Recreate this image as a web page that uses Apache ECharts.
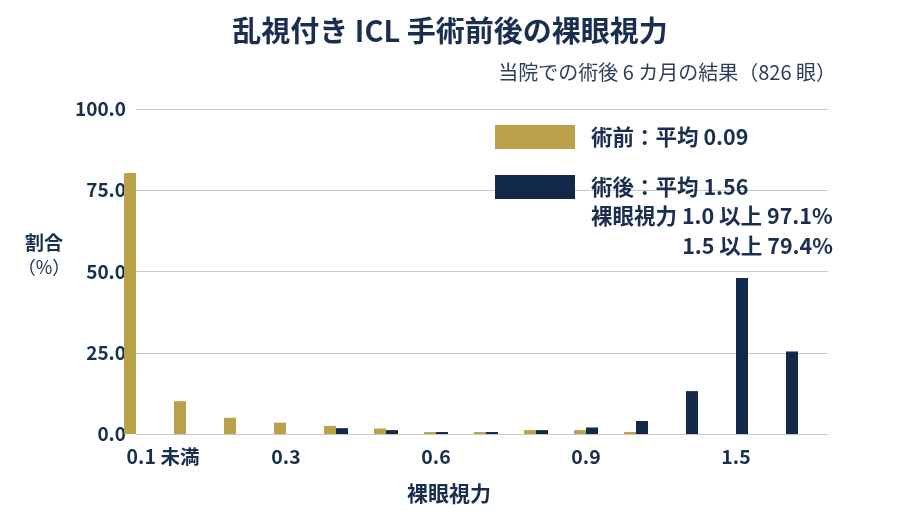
<!DOCTYPE html>
<html>
<head>
<meta charset="utf-8">
<script src="https://cdn.jsdelivr.net/npm/echarts@6/dist/echarts.min.js"></script>
<style>
html,body{margin:0;padding:0;background:#fff;}
#chart{width:900px;height:524px;}
</style>
</head>
<body>
<div id="chart"></div>
<script>
// ---- data ----
const categories = ['0.1 未満','0.1','0.2','0.3','0.4','0.5','0.6','0.7','0.8','0.9','1.0','1.2','1.5','2.0'];
const preOp  = [80.3, 10.1, 5.0, 3.5, 2.5, 1.7, 0.6, 0.6, 1.2, 1.2, 0.6, 0, 0, 0];
const postOp = [0, 0, 0, 0, 1.8, 1.2, 0.6, 0.6, 1.2, 2.0, 4.0, 13.2, 48.0, 25.4];
const yTicks = [0, 25, 50, 75, 100];
const seriesNames = ['術前：平均 0.09', '術後：平均 1.56'];
const titleText = '乱視付き ICL 手術前後の裸眼視力';
const subText = '当院での術後 6 カ月の結果（826 眼）';
const noteLines = ['裸眼視力 1.0 以上 97.1%', '1.5 以上 79.4%'];
const yName = ['割合', '（%）'];
const xName = '裸眼視力';

// ---- style ----
const FONT = '"Noto Sans CJK JP", "Noto Sans", sans-serif';
const NAVY_TEXT = '#1a2e50';
const GOLD = '#BBA24A';
const NAVY = '#12294B';
const GRID = '#c8c8c8';

const chart = echarts.init(document.getElementById('chart'), null, {renderer: 'canvas'});
const yMax = yTicks[yTicks.length - 1];
const yStep = yTicks[1] - yTicks[0];

chart.setOption({
  backgroundColor: '#fff',
  animation: false,
  textStyle: {fontFamily: FONT},
  title: [
    {text: titleText, left: 'center', top: 11,
     textStyle: {fontFamily: FONT, fontSize: 29, fontWeight: 'bold', color: NAVY_TEXT}},
    {text: subText, right: 59, top: 57,
     textStyle: {fontFamily: FONT, fontSize: 20, fontWeight: 'normal', color: '#2c3d5c'}}
  ],
  legend: {
    orient: 'vertical', left: 490, top: 120,
    itemWidth: 80, itemHeight: 24, itemGap: 26,
    icon: 'rect', selectedMode: false,
    textStyle: {fontFamily: FONT, fontSize: 21.5, fontWeight: 'bold', color: NAVY_TEXT, padding: [0,0,0,11]},
    data: seriesNames
  },
  grid: [
    {left: 136, right: 72, top: 109, bottom: 90},
    {left: 111, right: 89, top: 109, bottom: 90}
  ],
  xAxis: [
    {type: 'value', gridIndex: 0, show: false, min: 0, max: 1},
    {type: 'category', gridIndex: 1, data: categories,
     axisLine: {show: false}, axisTick: {show: false},
     axisLabel: {interval: 2, margin: 13, fontFamily: FONT, fontSize: 19.5, fontWeight: 'bold', color: NAVY_TEXT,
       formatter: function (v, i) { return i === 0 ? '{a|' + v + '}' : v; },
       rich: {a: {fontFamily: FONT, fontSize: 19.5, fontWeight: 'bold', color: NAVY_TEXT, padding: [0, 0, 0, 54]}}}
    }
  ],
  yAxis: [
    {type: 'value', gridIndex: 0, min: 0, max: yMax, interval: yStep,
     axisLine: {show: false}, axisTick: {show: false},
     splitLine: {lineStyle: {color: GRID, width: 1}},
     axisLabel: {margin: 10, fontFamily: FONT, fontSize: 19, fontWeight: 'bold', color: NAVY_TEXT,
       formatter: v => v.toFixed(1)}},
    {type: 'value', gridIndex: 1, min: 0, max: yMax, interval: yStep, show: false, splitLine: {show: false}}
  ],
  graphic: [
    {type: 'text', left: 591, top: 205,
     style: {text: noteLines[0], font: 'bold 21.5px ' + FONT, fill: NAVY_TEXT}},
    {type: 'text', right: 67, top: 235,
     style: {text: noteLines[1], font: 'bold 21.5px ' + FONT, fill: NAVY_TEXT, textAlign: 'right'}},
    {type: 'text', x: 44, y: 231,
     style: {text: '{a|' + yName[0] + '}\n{b|' + yName[1] + '}', align: 'center', verticalAlign: 'top',
       rich: {a: {fontFamily: FONT, fontSize: 19, fontWeight: 'bold', fill: NAVY_TEXT, lineHeight: 24, align: 'center'},
              b: {fontFamily: FONT, fontSize: 18, fontWeight: 'normal', fill: NAVY_TEXT, lineHeight: 24, align: 'center'}}}},
    {type: 'text', left: 407, top: 483,
     style: {text: xName, font: 'bold 21px ' + FONT, fill: NAVY_TEXT}}
  ],
  series: [
    {name: seriesNames[0], type: 'bar', xAxisIndex: 1, yAxisIndex: 1, data: preOp,
     barWidth: 12, barGap: '0%', itemStyle: {color: GOLD}},
    {name: seriesNames[1], type: 'bar', xAxisIndex: 1, yAxisIndex: 1, data: postOp,
     barWidth: 12, barGap: '0%', itemStyle: {color: NAVY}}
  ]
});
</script>
</body>
</html>
